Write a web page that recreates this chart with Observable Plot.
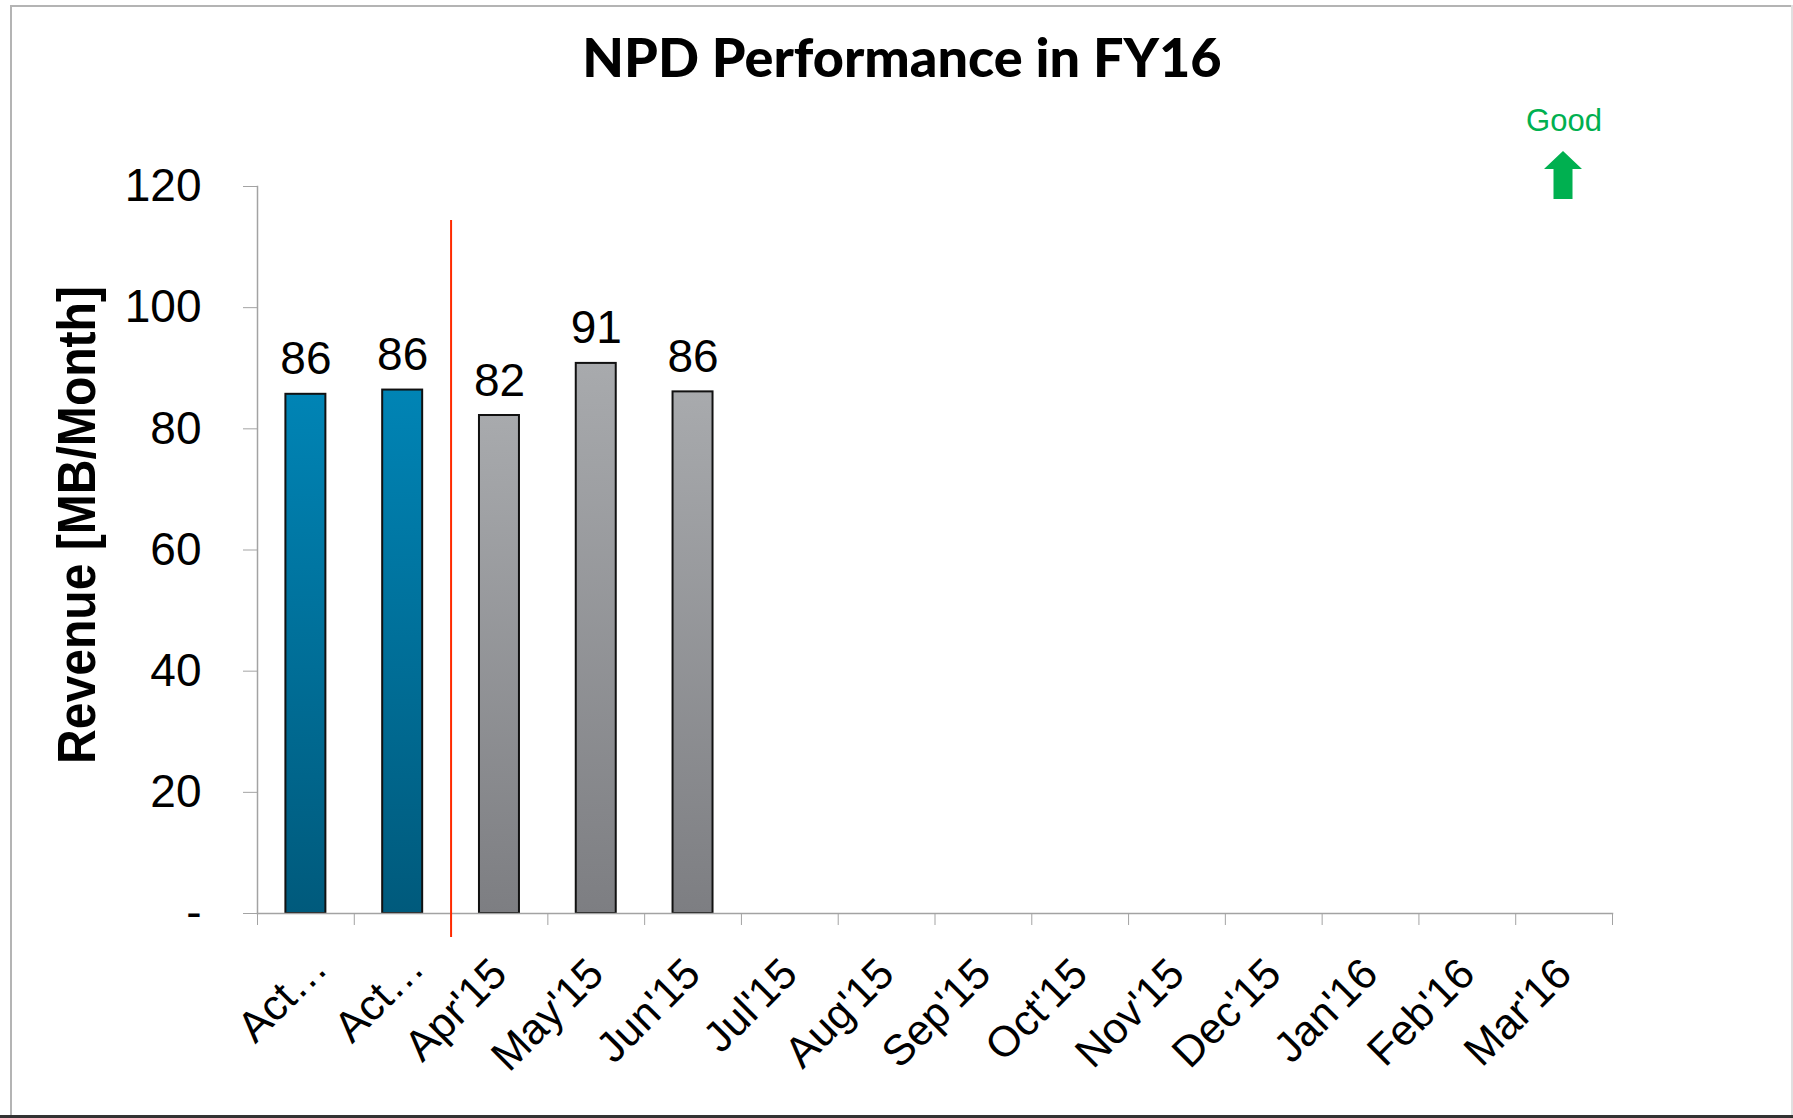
<!DOCTYPE html>
<html>
<head>
<meta charset="utf-8">
<script src="https://cdn.jsdelivr.net/npm/d3@7"></script>
<script src="https://cdn.jsdelivr.net/npm/@observablehq/plot@0.6"></script>
<style>
html, body { margin: 0; padding: 0; background: #fff; }
#page { position: relative; width: 1793px; height: 1118px; overflow: hidden; background: #fff; }
.line { position: absolute; }
#title { position: absolute; left: 0; width: 1804px; top: 30px; text-align: center;
  font-family: Lato, "DejaVu Sans", sans-serif; font-weight: 900; font-size: 54px; line-height: 54px; color: #000; }
#good { position: absolute; left: 1514px; width: 100px; top: 106px; text-align: center;
  font-family: "Liberation Sans", Arial, sans-serif; font-size: 31px; line-height: 30px; color: #00b050; }
#arrow { position: absolute; left: 1544px; top: 151px; }
#chart { position: absolute; left: 0; top: 0; }
</style>
</head>
<body>
<div id="page">
  <div class="line" style="left:10px;top:5px;width:1783px;height:2px;background:#b4b4b4"></div>
  <div class="line" style="left:10px;top:5px;width:2px;height:1113px;background:#b4b4b4"></div>
  <div class="line" style="left:1791px;top:5px;width:2px;height:1113px;background:#e0e0e0"></div>
  <div class="line" style="left:0;top:1115px;width:1793px;height:3px;background:#333"></div>
  <div id="chart"></div>
  <div id="title"></div>
  <div id="good"></div>
  <svg id="arrow" width="38" height="48"><polygon points="19,0 38,18 28.5,18 28.5,48 9.5,48 9.5,18 0,18" fill="#00b050"/></svg>
</div>
<script>
// ---- data ----
const title = "NPD Performance in FY16";
const yLabel = "Revenue [MB/Month]";
const goodLabel = "Good";
const categories = ["Act…(1)", "Act…(2)", "Apr'15", "May'15", "Jun'15", "Jul'15", "Aug'15", "Sep'15", "Oct'15", "Nov'15", "Dec'15", "Jan'16", "Feb'16", "Mar'16"];
const tickLabels = ["Act…", "Act…", "Apr'15", "May'15", "Jun'15", "Jul'15", "Aug'15", "Sep'15", "Oct'15", "Nov'15", "Dec'15", "Jan'16", "Feb'16", "Mar'16"];
const revenue = [85.7, 86.4, 82.2, 90.8, 86.1];
const seriesType = ["Actual", "Actual", "FY16", "FY16", "FY16"];
const yTicks = [0, 20, 40, 60, 80, 100, 120];
const yTickLabels = ["-", "20", "40", "60", "80", "100", "120"];
const dividerAfter = 2;

// ---- build ----
document.getElementById("title").textContent = title;
document.getElementById("good").textContent = goodLabel;

const data = revenue.map((v, i) => ({i, category: categories[i], value: v, type: seriesType[i]}));
const n = categories.length;
const axisGrey = "#a3a3a3";
const font = "'Liberation Sans', Arial, sans-serif";

const defs = () => {
  const d = d3.create("svg:defs");
  const g1 = d.append("linearGradient").attr("id", "gBlue").attr("x1", 0).attr("y1", 0).attr("x2", 0).attr("y2", 1);
  g1.append("stop").attr("offset", "0%").attr("stop-color", "#0084b5");
  g1.append("stop").attr("offset", "100%").attr("stop-color", "#005a7c");
  const g2 = d.append("linearGradient").attr("id", "gGrey").attr("x1", 0).attr("y1", 0).attr("x2", 0).attr("y2", 1);
  g2.append("stop").attr("offset", "0%").attr("stop-color", "#a8aaad");
  g2.append("stop").attr("offset", "100%").attr("stop-color", "#7d7e82");
  return d.node();
};

const barOpts = {x1: d => d.i, x2: d => d.i + 1, y: "value", insetLeft: 28.4, insetRight: 28.4, stroke: "#111", strokeWidth: 2};
const labelOpts = {tickFormat: d => tickLabels[Math.floor(d)], tickSize: 0, tickRotate: -45, tickPadding: 53, fontSize: 43, fill: "#000", label: null};
const centers = d3.range(n).map(i => i + 0.5);
const truncated = centers.filter(c => tickLabels[Math.floor(c)].endsWith("…"));
const full = centers.filter(c => !tickLabels[Math.floor(c)].endsWith("…"));

const chart = Plot.plot({
  width: 1793, height: 1118,
  marginLeft: 257, marginRight: 181, marginTop: 186, marginBottom: 205,
  style: {fontFamily: font, background: "transparent", color: "#000", overflow: "visible"},
  x: {type: "linear", domain: [0, n], axis: null},
  y: {domain: [0, 120], axis: null},
  marks: [
    defs,
    Plot.rectY(data.filter(d => d.type === "Actual"), {...barOpts, fill: "url(#gBlue)"}),
    Plot.rectY(data.filter(d => d.type !== "Actual"), {...barOpts, fill: "url(#gGrey)"}),
    Plot.frame({anchor: "left", stroke: axisGrey, strokeWidth: 1.5}),
    Plot.frame({anchor: "bottom", stroke: axisGrey, strokeWidth: 1.5}),
    Plot.axisY({ticks: yTicks, tickFormat: d => yTickLabels[yTicks.indexOf(d)], tickSize: 14, tickPadding: 42,
      fontSize: 46, stroke: axisGrey, fill: "#000", label: null}),
    Plot.axisX({ticks: d3.range(n + 1), tickFormat: () => "", tickSize: 12, stroke: axisGrey, label: null}),
    Plot.axisX({...labelOpts, ticks: full}),
    Plot.axisX({...labelOpts, ticks: truncated, dx: 14, dy: -6}),
    Plot.ruleX([dividerAfter], {stroke: "#ff2a00", strokeWidth: 2, insetTop: 34, insetBottom: -24}),
    Plot.text(data, {x: d => d.i + 0.5, y: "value", text: d => d3.format(".0f")(d.value), lineAnchor: "bottom", dy: -20, fontSize: 46, fill: "#000"}),
    Plot.text([yLabel], {frameAnchor: "left", text: d => d, rotate: -90, textAnchor: "middle", dx: -179, dy: -25, fontSize: 53, fontWeight: "bold",
      fontFamily: "'Liberation Sans Narrow', 'Arial Narrow', 'Liberation Sans', sans-serif", fill: "#000"})
  ]
});
// condense the axis title to the reference's narrow proportions
d3.select(chart).selectAll("text").filter(function() { return this.textContent === yLabel; })
  .attr("textLength", 478).attr("lengthAdjust", "spacingAndGlyphs");
document.getElementById("chart").appendChild(chart);
</script>
</body>
</html>
